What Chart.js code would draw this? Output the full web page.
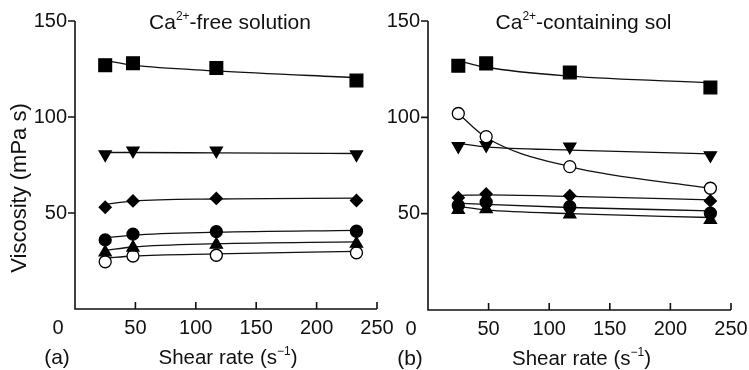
<!DOCTYPE html>
<html>
<head>
<meta charset="utf-8">
<script src="https://cdn.jsdelivr.net/npm/chart.js@4.4.0/dist/chart.umd.min.js"></script>
<style>
  body { margin: 0; background: #fff; }
  #wrap { position: relative; width: 749px; height: 370px; }
  canvas { position: absolute; left: 0; top: 0; }
</style>
</head>
<body>
<div id="wrap">
  <canvas id="chartA" width="749" height="370"></canvas>
  <canvas id="chartB" width="749" height="370"></canvas>
</div>
<script>
const shearRates = [25, 48, 117, 233];
const xTicks = [0, 50, 100, 150, 200, 250];
const yTicks = [50, 100, 150];

// (a) Ca2+-free solution: measured points and fitted curves
const freeSquare = [127, 128, 125.5, 119];
const freeSquareFit = [129.5, 127, 124, 120.5];
const freeTriDown = [80.5, 82.5, 82.5, 80.5];
const freeTriDownFit = [81.5, 81.5, 81.3, 81];
const freeDiamond = [53, 56.3, 57.6, 56.5];
const freeDiamondFit = [54.5, 56.2, 57.3, 57.7];
const freeCircle = [36, 39, 40.3, 40.5];
const freeCircleFit = [37, 38.5, 40, 41];
const freeTriUp = [29.5, 32, 33.5, 34];
const freeTriUpFit = [30.5, 32.3, 34, 35];
const freeOpen = [24.6, 27.6, 28, 29.3];
const freeOpenFit = [26.5, 27.6, 28.7, 30];

// (b) Ca2+-containing solution
const caSquare = [126.8, 128, 123.3, 115.5];
const caSquareFit = [129.4, 126, 121.4, 118];
const caOpen = [102, 90, 74.4, 63.2];
const caOpenFit = [102, 89.5, 74.4, 63.2];
const caTriDown = [85, 85.6, 84.8, 80.3];
const caTriDownFit = [86.5, 84.7, 83, 81];
const caDiamond = [58.3, 60.2, 59.3, 56.6];
const caDiamondFit = [59.5, 59.8, 59, 57.2];
const caCircle = [54.2, 56, 53.6, 50.3];
const caCircleFit = [55.5, 54.8, 53.2, 51.5];
const caTriUp = [52, 52.4, 49.6, 46.8];
const caTriUpFit = [53.8, 52, 50, 48];

const FONT = '"Liberation Sans", Arial, Helvetica, sans-serif';

function pts(values) {
  return shearRates.map((x, i) => ({ x: x, y: values[i] }));
}

function markers(values, style, fill, radius, rotation) {
  return {
    data: pts(values),
    showLine: false,
    pointStyle: style,
    pointRotation: rotation || 0,
    pointRadius: radius,
    pointBackgroundColor: fill,
    pointBorderColor: '#000',
    pointBorderWidth: 1.3,
    order: 0
  };
}

function fitLine(values) {
  return {
    data: pts(values),
    showLine: true,
    borderColor: '#111',
    borderWidth: 1.3,
    pointRadius: 0,
    cubicInterpolationMode: 'monotone',
    order: 1
  };
}

// draw text with superscript parts
function drawRich(ctx, parts, x, y, align, size) {
  const widths = parts.map(p => {
    ctx.font = (p.sup ? Math.round(size * 0.58) : size) + 'px ' + FONT;
    return ctx.measureText(p.t).width;
  });
  const total = widths.reduce((a, b) => a + b, 0);
  let cx = align === 'center' ? x - total / 2 : x;
  ctx.textAlign = 'left';
  ctx.textBaseline = 'middle';
  parts.forEach((p, i) => {
    ctx.font = (p.sup ? Math.round(size * 0.58) : size) + 'px ' + FONT;
    ctx.fillText(p.t, cx, p.sup ? y - size * 0.32 : y);
    cx += widths[i];
  });
}

const axesPlugin = {
  id: 'axes',
  afterDraw(chart, args, opts) {
    const { ctx } = chart;
    const xs = chart.scales.x, ys = chart.scales.y;
    const left = xs.getPixelForValue(0), right = xs.getPixelForValue(250);
    const top = ys.getPixelForValue(150), bottom = ys.getPixelForValue(0);
    ctx.save();
    ctx.strokeStyle = '#111';
    ctx.lineWidth = 1.6;
    ctx.beginPath();
    ctx.moveTo(left, top);
    ctx.lineTo(left, bottom);
    ctx.lineTo(right, bottom);
    yTicks.forEach(v => {
      const p = ys.getPixelForValue(v);
      ctx.moveTo(left - 7, p);
      ctx.lineTo(left, p);
    });
    xTicks.forEach(v => {
      if (v === 0) return;
      const p = xs.getPixelForValue(v);
      ctx.moveTo(p, bottom);
      ctx.lineTo(p, bottom - 7);
    });
    ctx.stroke();

    ctx.fillStyle = '#111';
    ctx.font = '20px ' + FONT;
    ctx.textAlign = 'right';
    ctx.textBaseline = 'middle';
    yTicks.forEach(v => ctx.fillText(String(v), left - 8, ys.getPixelForValue(v)));
    ctx.textAlign = 'center';
    xTicks.forEach(v => {
      const p = v === 0 ? left - 17 : xs.getPixelForValue(v);
      ctx.fillText(String(v), p, bottom + 19);
    });

    drawRich(ctx, opts.title, (left + right) / 2 + 4, top + 2, 'center', 21);
    drawRich(ctx, [{ t: 'Shear rate (s' }, { t: '\u22121', sup: true }, { t: ')' }],
      (left + right) / 2 + 2, bottom + 49, 'center', 20.5);
    ctx.font = '21px ' + FONT;
    ctx.textAlign = 'center';
    ctx.fillText(opts.panel, left - 18, bottom + 49);

    if (opts.yTitle) {
      ctx.font = '22px ' + FONT;
      ctx.translate(20, 188);
      ctx.rotate(-Math.PI / 2);
      ctx.textAlign = 'center';
      ctx.fillText(opts.yTitle, 0, 0);
    }
    ctx.restore();
  }
};

function makeChart(id, datasets, padding, opts) {
  return new Chart(document.getElementById(id).getContext('2d'), {
    type: 'scatter',
    data: { datasets: datasets },
    options: {
      responsive: false,
      animation: false,
      layout: { padding: padding },
      clip: false,
      scales: {
        x: { type: 'linear', min: 0, max: 250, display: false },
        y: { type: 'linear', min: 0, max: 150, display: false }
      },
      plugins: { legend: { display: false }, tooltip: { enabled: false }, axes: opts }
    },
    plugins: [axesPlugin]
  });
}

makeChart('chartA', [
  markers(freeSquare, 'rect', '#000', 9),
  markers(freeTriDown, 'triangle', '#000', 7, 180),
  markers(freeDiamond, 'rectRot', '#000', 6),
  markers(freeCircle, 'circle', '#000', 6),
  markers(freeTriUp, 'triangle', '#000', 7),
  markers(freeOpen, 'circle', '#fff', 6),
  fitLine(freeSquareFit),
  fitLine(freeTriDownFit),
  fitLine(freeDiamondFit),
  fitLine(freeCircleFit),
  fitLine(freeTriUpFit),
  fitLine(freeOpenFit)
], { left: 75, right: 372, top: 21, bottom: 61 }, {
  title: [{ t: 'Ca' }, { t: '2+', sup: true }, { t: '-free solution' }],
  panel: '(a)',
  yTitle: 'Viscosity (mPa s)'
});

makeChart('chartB', [
  markers(caSquare, 'rect', '#000', 9),
  markers(caOpen, 'circle', '#fff', 6),
  markers(caTriDown, 'triangle', '#000', 7, 180),
  markers(caDiamond, 'rectRot', '#000', 6),
  markers(caCircle, 'circle', '#000', 6),
  markers(caTriUp, 'triangle', '#000', 7),
  fitLine(caSquareFit),
  fitLine(caOpenFit),
  fitLine(caTriDownFit),
  fitLine(caDiamondFit),
  fitLine(caCircleFit),
  fitLine(caTriUpFit)
], { left: 428, right: 18, top: 21, bottom: 60 }, {
  title: [{ t: 'Ca' }, { t: '2+', sup: true }, { t: '-containing sol' }],
  panel: '(b)',
  yTitle: null
});
</script>
</body>
</html>
